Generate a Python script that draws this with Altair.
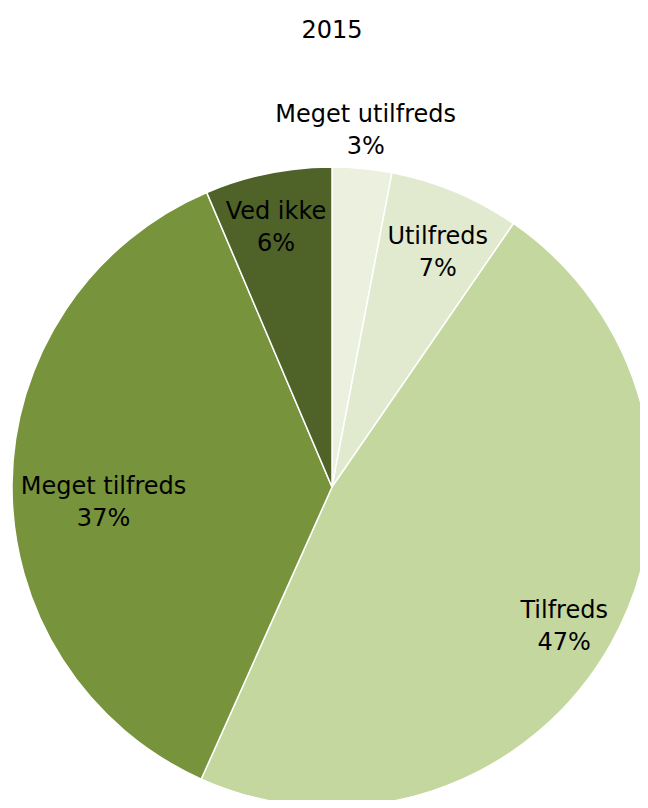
import altair as alt
import pandas as pd

categories = ["Meget utilfreds", "Utilfreds", "Tilfreds", "Meget tilfreds", "Ved ikke"]
values = [3.0, 6.6, 47.1, 36.9, 6.4]
shown = ["3%", "7%", "47%", "37%", "6%"]       # labels as printed
colors = ["#EBF1DE", "#E1EACF", "#C4D79E", "#77933C", "#4F6228"]
# label placement (layout only): distance from pie centre, and angular nudge in degrees
label_radius = [358, 257, 271, 229, 265]
label_shift = [0.0, 1.6, 1.7, -4.5, -0.7]

df = pd.DataFrame({
    "cat": categories,
    "value": values,
    "idx": list(range(len(categories))),
    "label": [f"{c}\n{s}" for c, s in zip(categories, shown)],
    "lr": label_radius,
    "ls": label_shift,
})

cx, cy, R = 324, 419, 320

base = alt.Chart(df).transform_window(
    cum="sum(value)", sort=[alt.SortField("idx", order="ascending")]
).transform_joinaggregate(
    total="sum(value)"
).transform_calculate(
    t0="(datum.cum - datum.value) / datum.total * 2 * PI",
    t1="datum.cum / datum.total * 2 * PI",
    mid="(datum.cum - datum.value / 2) / datum.total * 2 * PI + datum.ls * PI / 180",
)

arcs = base.mark_arc(stroke="white", strokeWidth=1.5).encode(
    theta=alt.Theta("t0:Q", scale=None),
    theta2="t1:Q",
    color=alt.Color("cat:N", scale=alt.Scale(domain=categories, range=colors), legend=None),
    radius=alt.value(R),
    x=alt.value(cx),
    y=alt.value(cy),
)

labels = base.mark_text(
    font="DejaVu Sans", fontSize=24, color="black", lineBreak="\n", lineHeight=32,
    align="center", baseline="middle", dy=-16,
).encode(
    theta=alt.Theta("mid:Q", scale=None),
    text="label:N",
    radius=alt.Radius("lr:Q", scale=None),
    x=alt.value(cx),
    y=alt.value(cy),
)

chart = alt.layer(arcs, labels).properties(
    width=632,
    height=732,
    padding={"left": 0, "top": 60, "right": 0, "bottom": 0},
    autosize=alt.AutoSizeParams(type="none"),
    title=alt.TitleParams("2015", font="DejaVu Sans", fontSize=24, fontWeight="normal",
                          color="black", anchor="middle", baseline="middle", offset=13, dx=8),
).configure_view(stroke=None)

chart.save("out.html", embed_options={"renderer": "svg", "actions": False})
